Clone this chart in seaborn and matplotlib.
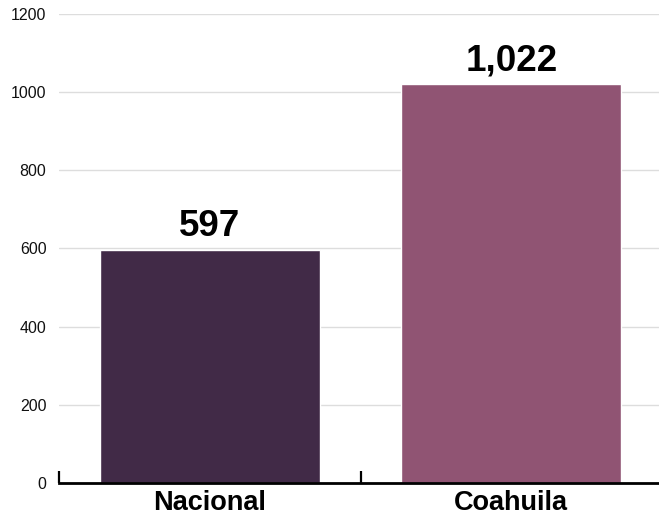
import matplotlib
matplotlib.use("Agg")
import matplotlib.pyplot as plt
import seaborn as sns
import pandas as pd

categories = ["Nacional", "Coahuila"]
values = [597, 1022]
value_labels = ["597", "1,022"]
bar_colors = ["#412a47", "#905473"]
y_ticks = [0, 200, 400, 600, 800, 1000, 1200]

sns.set_theme(style="white")
plt.rcParams["font.family"] = ["Liberation Sans", "DejaVu Sans"]

df = pd.DataFrame({"categoria": categories, "valor": values})

fig = plt.figure(figsize=(6.59, 5.15), dpi=100)
ax = fig.add_axes([59 / 659, 32 / 515, 600 / 659, 469 / 515])

sns.barplot(data=df, x="categoria", y="valor", hue="categoria",
            palette=bar_colors, width=0.73, saturation=1, legend=False, ax=ax,
            zorder=2)

ax.set_ylim(0, 1200)
ax.set_xlim(-0.5, 1.49)
ax.set_yticks(y_ticks)
ax.set_yticklabels([str(t) for t in y_ticks], fontsize=11.5, color="#111111")
ax.yaxis.grid(True, color="#dddddd", linewidth=1, zorder=0)
ax.set_axisbelow(True)
ax.tick_params(axis="y", length=0, pad=9)

ax.set_xticks([0, 1])
ax.set_xticklabels(categories, fontsize=19.5, fontweight="bold", color="black")
ax.tick_params(axis="x", which="major", bottom=False, length=0, pad=5)
ax.set_xticks([-0.5, 0.5], minor=True)
ax.tick_params(axis="x", which="minor", bottom=True, direction="in",
               length=9, width=1.6, color="black")

for side in ["top", "right", "left"]:
    ax.spines[side].set_visible(False)
ax.spines["bottom"].set_color("black")
ax.spines["bottom"].set_linewidth(2)

ax.set_xlabel("")
ax.set_ylabel("")

for i, (v, lbl) in enumerate(zip(values, value_labels)):
    ax.annotate(lbl, xy=(i, v), xytext=(0, 4), textcoords="offset points",
                ha="center", va="bottom", fontsize=26.5, fontweight="bold",
                color="black")

fig.savefig("out.png", dpi=100)
